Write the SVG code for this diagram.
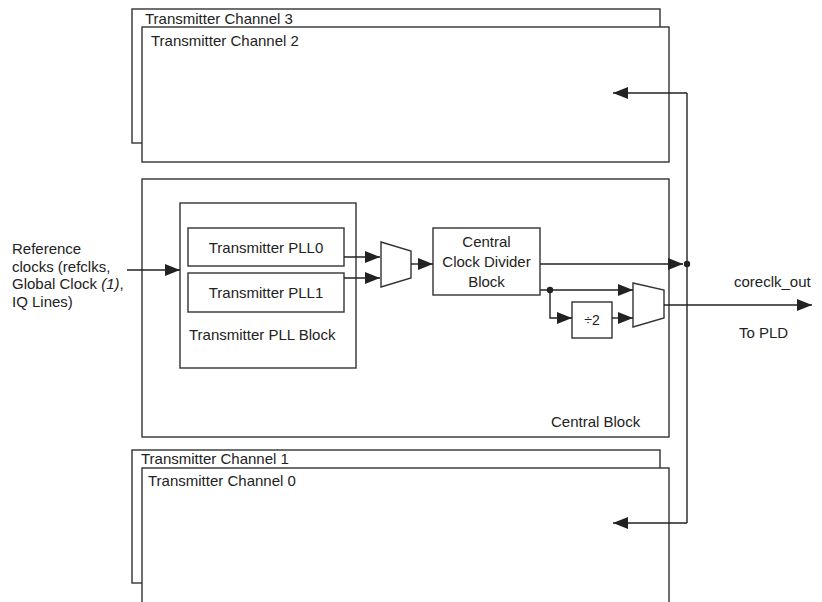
<svg xmlns="http://www.w3.org/2000/svg" width="822" height="602" viewBox="0 0 822 602">
<defs>
<style>
.box{fill:#fff;stroke:#333;stroke-width:1.4}
.ln{fill:none;stroke:#222;stroke-width:1.4}
.t{font-family:"Liberation Sans",Arial,sans-serif;font-size:15px;fill:#222}
.m{text-anchor:middle}
</style>
<marker id="ah" viewBox="0 0 15 12" refX="15" refY="6" markerWidth="15" markerHeight="12" markerUnits="userSpaceOnUse" orient="auto">
<path d="M0,0 L15,6 L0,12 Z" fill="#222"/>
</marker>
</defs>
<rect width="822" height="602" fill="#fff"/>

<g id="channel3"><rect class="box" x="132" y="9" width="528" height="134"/><text class="t" x="145" y="24">Transmitter Channel 3</text></g>
<g id="channel2"><rect class="box" x="142" y="27" width="527" height="135"/><text class="t" x="151" y="46">Transmitter Channel 2</text></g>

<g id="central-block"><rect class="box" x="142" y="179" width="527" height="258"/><text class="t" x="551" y="427">Central Block</text></g>

<g id="channel1"><rect class="box" x="132" y="450" width="528" height="133"/><text class="t" x="141" y="464">Transmitter Channel 1</text></g>
<g id="channel0"><rect class="box" x="142" y="468" width="527" height="150"/><text class="t" x="148" y="486">Transmitter Channel 0</text></g>

<g id="pll-block"><rect class="box" x="180" y="203" width="176" height="165"/><text class="t" x="189" y="340">Transmitter PLL Block</text></g>
<g id="pll0"><rect class="box" x="188" y="228" width="156" height="38"/><text class="t m" x="266" y="253">Transmitter PLL0</text></g>
<g id="pll1"><rect class="box" x="188" y="273" width="156" height="39"/><text class="t m" x="266" y="298">Transmitter PLL1</text></g>

<g id="mux1"><path class="box" d="M381,242 L411,251 L411,278 L381,287 Z"/></g>
<g id="ccd"><rect class="box" x="433" y="228" width="107" height="67"/>
<text class="t m" x="486.5" y="247">Central</text><text class="t m" x="486.5" y="267">Clock Divider</text><text class="t m" x="486.5" y="287">Block</text></g>
<g id="div2"><rect class="box" x="572" y="302" width="40" height="36"/><text class="t m" x="592" y="325" style="font-size:14px">÷2</text></g>
<g id="mux2"><path class="box" d="M633,283 L664,290 L664,318 L633,327 Z"/></g>

<g id="labels">
<text class="t" x="12" y="254">Reference</text>
<text class="t" x="12" y="271.5">clocks (refclks,</text>
<text class="t" x="12" y="289">Global Clock <tspan font-style="italic">(1)</tspan>,</text>
<text class="t" x="12" y="306.5">IQ Lines)</text>
<text class="t" x="734" y="287">coreclk_out</text>
<text class="t" x="739" y="338">To PLD</text>
</g>

<g id="connectors">
<line class="ln" x1="127" y1="270" x2="180" y2="270" marker-end="url(#ah)"/>
<line class="ln" x1="344" y1="257" x2="380" y2="257" marker-end="url(#ah)"/>
<line class="ln" x1="344" y1="278" x2="380" y2="278" marker-end="url(#ah)"/>
<line class="ln" x1="411" y1="264" x2="433" y2="264" marker-end="url(#ah)"/>
<line class="ln" x1="540" y1="264" x2="683" y2="264" marker-end="url(#ah)"/>
<line class="ln" x1="540" y1="290" x2="633" y2="290" marker-end="url(#ah)"/>
<polyline class="ln" points="550,290 550,318 572,318" marker-end="url(#ah)"/>
<line class="ln" x1="612" y1="318" x2="633" y2="318" marker-end="url(#ah)"/>
<line class="ln" x1="664" y1="305" x2="812" y2="305" marker-end="url(#ah)"/>
<polyline class="ln" points="687,93 613,93" marker-end="url(#ah)"/>
<line class="ln" x1="687" y1="93" x2="687" y2="523"/>
<polyline class="ln" points="687,523 613,523" marker-end="url(#ah)"/>
<circle cx="687" cy="264" r="3.2" fill="#222"/>
<circle cx="550" cy="290" r="3.2" fill="#222"/>
</g>
</svg>
